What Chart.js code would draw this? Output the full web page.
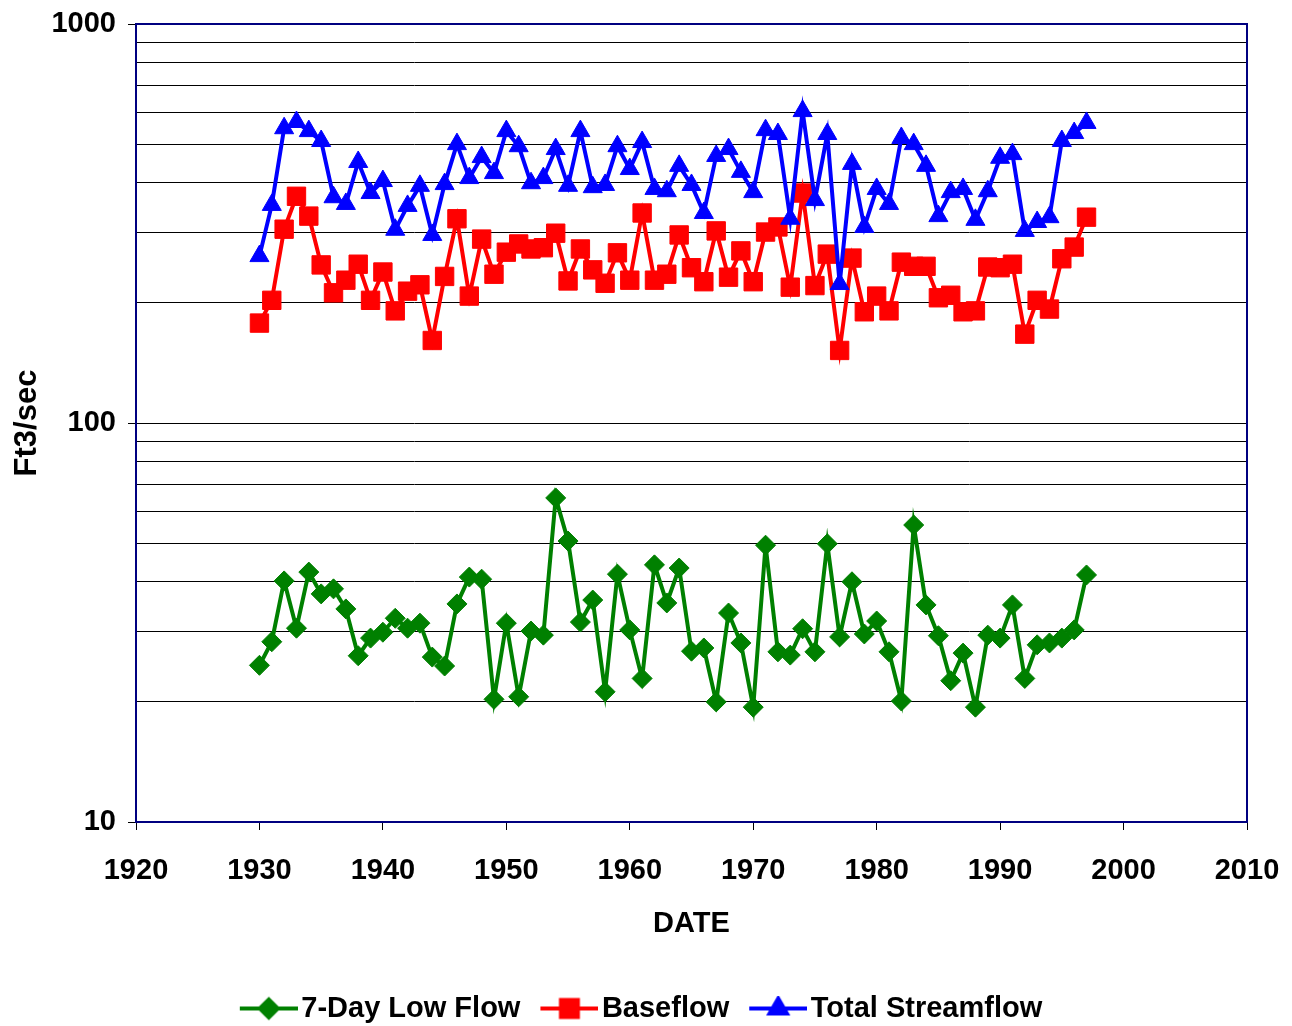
<!DOCTYPE html>
<html>
<head>
<meta charset="utf-8">
<script src="https://cdn.jsdelivr.net/npm/chart.js@4.4.0/dist/chart.umd.min.js"></script>
<style>
  html, body { margin: 0; padding: 0; background: #fff; }
  #wrap { width: 1292px; height: 1026px; }
</style>
</head>
<body>
<div id="wrap"><canvas id="flowChart" width="1292" height="1026"></canvas></div>
<script>
const years = [1930, 1931, 1932, 1933, 1934, 1935, 1936, 1937, 1938, 1939,
               1940, 1941, 1942, 1943, 1944, 1945, 1946, 1947, 1948, 1949,
               1950, 1951, 1952, 1953, 1954, 1955, 1956, 1957, 1958, 1959,
               1960, 1961, 1962, 1963, 1964, 1965, 1966, 1967, 1968, 1969,
               1970, 1971, 1972, 1973, 1974, 1975, 1976, 1977, 1978, 1979,
               1980, 1981, 1982, 1983, 1984, 1985, 1986, 1987, 1988, 1989,
               1990, 1991, 1992, 1993, 1994, 1995, 1996, 1997];

const lowFlow = [24.7, 28.3, 40.2, 30.6, 42.3, 37.3, 38.4, 34.2, 26.1, 28.9,
                 29.9, 32.4, 30.6, 31.5, 25.9, 24.6, 35.2, 41.1, 40.6, 20.3,
                 31.5, 20.6, 30.1, 29.4, 64.9, 50.6, 31.7, 36.0, 21.2, 41.8,
                 30.3, 22.9, 44.1, 35.4, 43.3, 26.8, 27.3, 20.0, 33.4, 28.1,
                 19.4, 49.4, 26.7, 26.2, 30.5, 26.7, 49.8, 29.1, 40.0, 29.6,
                 31.9, 26.7, 20.1, 55.5, 35.0, 29.3, 22.6, 26.5, 19.4, 29.4,
                 28.9, 35.0, 22.9, 27.8, 28.1, 28.9, 30.3, 41.6];

const baseflow = [178, 203, 306, 370, 330, 249, 212, 228, 250, 203,
                  239, 191, 214, 222, 161, 233, 325, 208, 289, 236,
                  268, 281, 273, 275, 299, 227, 273, 242, 224, 267,
                  228, 336, 228, 236, 296, 245, 226, 303, 232, 270,
                  226, 301, 310, 219, 377, 221, 265, 152, 259, 190,
                  208, 191, 253, 247, 247, 206, 209, 190, 191, 246,
                  245, 250, 167, 203, 193, 258, 276, 328];

const totalFlow = [262, 352, 548, 568, 539, 509, 368, 354, 451, 377,
                   404, 305, 350, 393, 296, 397, 500, 411, 464, 423,
                   539, 494, 399, 411, 486, 393, 539, 390, 395, 494,
                   433, 506, 386, 381, 441, 395, 336, 467, 486, 426,
                   379, 542, 530, 325, 605, 362, 530, 223, 446, 310,
                   386, 354, 518, 500, 441, 330, 379, 386, 323, 381,
                   462, 472, 303, 319, 328, 509, 533, 565];

const seriesNames = ['Total Streamflow', 'Baseflow', '7-Day Low Flow'];
const seriesColors = ['#0000ff', '#ff0000', '#008000'];
const seriesMarkers = ['triangle', 'rect', 'rectRot'];
const markerSizes = [11, 13, 10];

const yGridValues = [10, 20, 30, 40, 50, 60, 70, 80, 90,
                     100, 200, 300, 400, 500, 600, 700, 800, 900, 1000];
const yLabelValues = [10, 100, 1000];

Chart.defaults.font.family = "'Liberation Sans', Arial, sans-serif";
Chart.defaults.font.size = 29;
Chart.defaults.font.weight = 'bold';
Chart.defaults.color = '#000';

const toPoints = vals => vals.map((v, i) => ({ x: years[i], y: v }));

// line+marker picture for the legend, drawn off-centre so it sits close to its text
const makeIcon = (idx) => {
    const c = document.createElement('canvas');
    c.width = 88;
    c.height = 26;
    const g = c.getContext('2d');
    g.strokeStyle = seriesColors[idx];
    g.lineWidth = 4;
    g.beginPath();
    g.moveTo(30, 13);
    g.lineTo(88, 13);
    g.stroke();
    g.fillStyle = seriesColors[idx];
    Chart.helpers.drawPoint(g, {
        pointStyle: seriesMarkers[idx],
        radius: markerSizes[idx] - 1,
        rotation: 0,
        borderWidth: 1
    }, 59, 13);
    return c;
};

const frame = {
    id: 'frame',
    afterLayout(chart) {
        // nudge the legend row down a little
        chart.legend.top += 7;
        chart.legend.bottom += 7;
    },
    afterDraw(chart) {
        const { ctx, chartArea: a } = chart;
        ctx.save();
        ctx.strokeStyle = '#000080';
        ctx.lineWidth = 2;
        ctx.strokeRect(a.left, a.top, a.right - a.left, a.bottom - a.top);
        ctx.restore();
    }
};

const datasets = [totalFlow, baseflow, lowFlow].map((vals, i) => ({
    label: seriesNames[i],
    data: toPoints(vals),
    borderColor: seriesColors[i],
    backgroundColor: seriesColors[i],
    borderWidth: 4,
    pointStyle: seriesMarkers[i],
    pointRadius: markerSizes[i],
    pointBorderWidth: 1,
    pointBackgroundColor: seriesColors[i],
    pointBorderColor: seriesColors[i],
    tension: 0
}));

new Chart(document.getElementById('flowChart'), {
    type: 'line',
    data: { datasets },
    options: {
        responsive: false,
        animation: false,
        devicePixelRatio: 1,
        layout: { padding: { top: 0, right: 29, left: 0, bottom: 0 } },
        plugins: {
            tooltip: { enabled: false },
            legend: {
                position: 'bottom',
                reverse: true,
                labels: {
                    usePointStyle: true,
                    pointStyleWidth: 66,
                    padding: 1,
                    color: '#000',
                    generateLabels(chart) {
                        const items = Chart.defaults.plugins.legend.labels.generateLabels(chart);
                        items.forEach(it => { it.pointStyle = makeIcon(it.datasetIndex); });
                        return items;
                    }
                }
            }
        },
        scales: {
            x: {
                type: 'linear',
                min: 1920,
                max: 2010,
                afterFit(scale) {
                    scale.height = 164;
                    scale.paddingLeft = 0;
                    scale.paddingRight = 45;
                },
                ticks: {
                    stepSize: 10,
                    padding: 24,
                    callback: v => String(v)
                },
                grid: { drawOnChartArea: false, drawTicks: true, tickLength: 8, tickColor: '#000' },
                border: { color: '#000080', width: 2 },
                title: { display: true, text: 'DATE', padding: { top: 0, bottom: 45 } }
            },
            y: {
                type: 'logarithmic',
                min: 10,
                max: 1000,
                afterFit(scale) {
                    scale.width = 136;
                    scale.paddingTop = 24;
                    scale.paddingBottom = 0;
                },
                afterBuildTicks(scale) {
                    scale.ticks = yGridValues.map(v => ({ value: v }));
                },
                ticks: {
                    autoSkip: false,
                    padding: 12,
                    callback: v => (yLabelValues.includes(v) ? String(v) : '')
                },
                grid: {
                    color: '#000',
                    lineWidth: 1,
                    tickLength: 8,
                    tickColor: c => (c.tick && yLabelValues.includes(c.tick.value) ? '#000' : 'rgba(0,0,0,0)')
                },
                border: { color: '#000080', width: 2 },
                title: { display: true, text: 'Ft3/sec', font: { size: 31 }, padding: { top: 9, bottom: 0 } }
            }
        }
    },
    plugins: [frame]
});
</script>
</body>
</html>
